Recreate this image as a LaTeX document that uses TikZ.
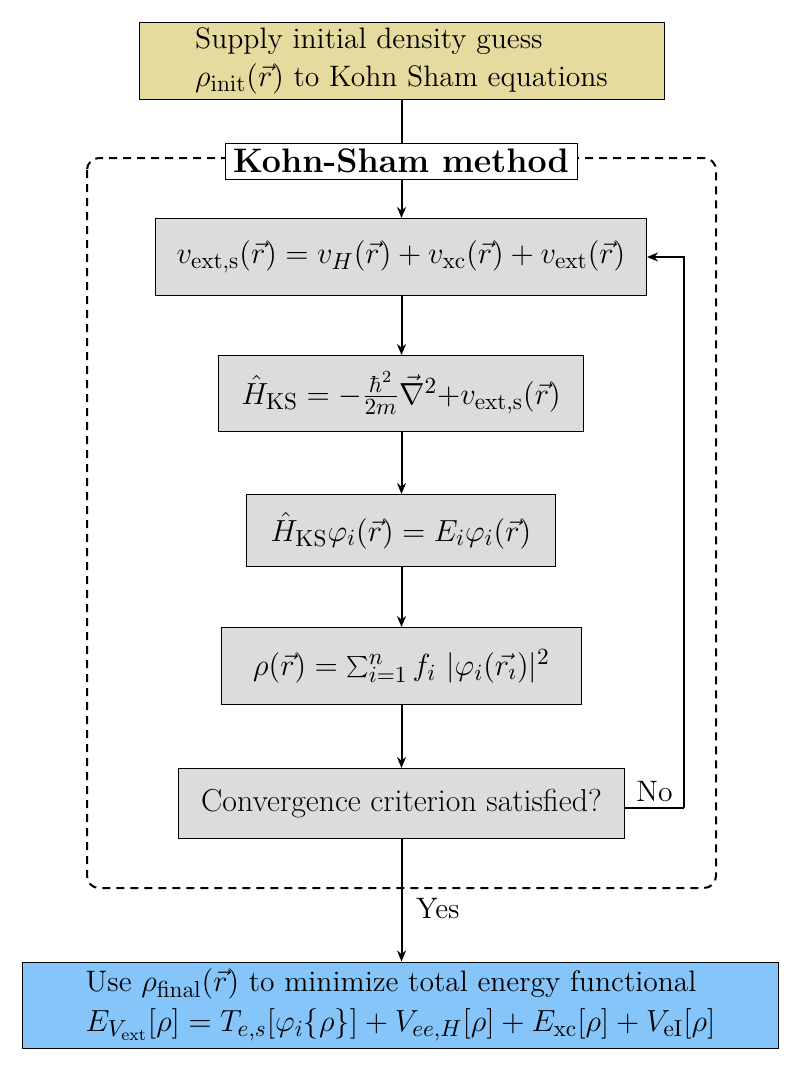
\documentclass[tikz,border=0pt]{standalone}
\usetikzlibrary{arrows.meta}
\definecolor{khaki}{RGB}{230,219,158}
\definecolor{boxgray}{RGB}{220,220,220}
\definecolor{skyblue}{RGB}{134,197,250}
\newcommand{\mymath}[1]{{\fontsize{15.4}{19}\selectfont\scalebox{1.06}{$#1$}}}
\begin{document}
\begin{tikzpicture}[x=0.5pt,y=-0.5pt,
  every node/.style={font=\fontsize{14.8}{19}\selectfont, inner sep=0pt, line width=0.5pt},
  stepbox/.style={draw, fill=boxgray, anchor=north west},
  conn/.style={line width=1pt, -{Stealth[length=5.5pt,width=4.5pt]}},
  plainline/.style={line width=1pt}
]
\useasboundingbox (0,0) rectangle (802,1072);
% frame
\draw[dashed, line width=1pt, rounded corners=6pt, dash pattern=on 4pt off 3pt] (87,158) rectangle (716,888);
% nodes
\node[draw, fill=khaki, minimum width=262.5pt, minimum height=38.5pt, align=left] (init) at (401.5,60.5)
  {Supply initial density guess\\ \mymath{\rho_{\mathrm{init}}(\vec{r})} to Kohn Sham equations};
\node[stepbox, minimum width=245.5pt, minimum height=38.5pt] (vext) at (155,218) {};
\node (vexttext) at (vext.center) {\mymath{v_{\mathrm{ext,s}}(\vec{r}) = v_H(\vec{r}) + v_{\mathrm{xc}}(\vec{r}) + v_{\mathrm{ext}}(\vec{r})}};
\node[stepbox, minimum width=182.5pt, minimum height=38pt] (ham) at (218,355) {};
\node (hamtext) at (ham.center) {\mymath{\hat{H}_{\mathrm{KS}} = -\frac{\hbar^2}{2m}\vec{\nabla}^2{+}v_{\mathrm{ext,s}}(\vec{r})}};
\node[stepbox, minimum width=154.5pt, minimum height=36pt] (ks) at (246,494) {};
\node (kstext) at (ks.center) {\mymath{\hat{H}_{\mathrm{KS}}\varphi_i(\vec{r}) = E_i\varphi_i(\vec{r})}};
\node[stepbox, minimum width=180pt, minimum height=38.5pt] (dens) at (221,627) {};
\node (denstext) at (dens.center) {\mymath{\rho(\vec{r}) = \sum_{i=1}^{n} f_i\ |\varphi_i(\vec{r_\imath})|^2}};
\node[stepbox, minimum width=223pt, minimum height=35pt] (conv) at (178,768) {};
\node[font=\fontsize{15.9}{19}\selectfont] (convtext) at (conv.center) {Convergence criterion satisfied?};
\node[draw, fill=skyblue, minimum width=378pt, minimum height=43pt, align=left] (final) at (400.5,1005)
  {Use \mymath{\rho_{\mathrm{final}}(\vec{r})} to minimize total energy functional\\[1pt]
   \mymath{E_{V_{\mathrm{ext}}}[\rho] = T_{e,s}[\varphi_i\{\rho\}] + V_{ee,H}[\rho] + E_{\mathrm{xc}}[\rho] + V_{\mathrm{eI}}[\rho]}};
% connectors
\draw[conn] (init.south) -- (vext.north -| init.south);
\node[draw, fill=white, minimum width=176pt, minimum height=18pt, inner sep=1pt,
  font=\fontsize{17}{19}\selectfont\bfseries] (title) at (401,161) {Kohn-Sham method};
\draw[conn] (vext.south -| init.south) -- (ham.north -| init.south);
\draw[conn] (ham.south -| init.south) -- (ks.north -| init.south);
\draw[conn] (ks.south -| init.south) -- (dens.north -| init.south);
\draw[conn] (dens.south -| init.south) -- (conv.north -| init.south);
\draw[conn] (conv.south -| init.south) -- node[right=7pt, pos=0.57] (yes) {Yes} (final.north -| init.south);
\coordinate (loopA) at (684,808);
\coordinate (loopB) at (684,257);
\draw[plainline] (conv.east |- loopA) -- node[above=3pt] (no) {No} (loopA);
\draw[conn] (loopA) -- (loopB) -- (vext.east |- loopB);
\end{tikzpicture}
\end{document}
